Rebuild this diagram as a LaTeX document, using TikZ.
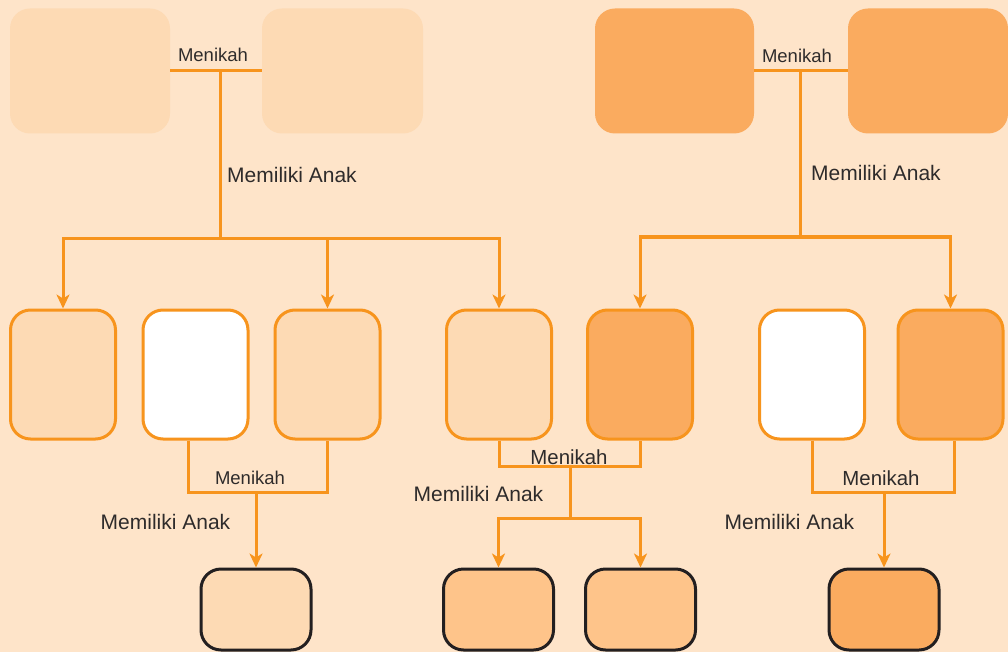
\documentclass[tikz,border=0pt]{standalone}
\usepackage{fontspec}
\setmainfont{Liberation Sans}
\usetikzlibrary{arrows.meta}
\definecolor{bg}{HTML}{FEE4C9}
\definecolor{light}{HTML}{FDDAB4}
\definecolor{dark}{HTML}{FAAB5F}
\definecolor{mid}{HTML}{FEC48A}
\definecolor{ln}{HTML}{F7941D}
\definecolor{txt}{HTML}{2E2B2B}
\definecolor{bord}{HTML}{231F20}
\begin{document}
\begin{tikzpicture}[x=1pt,y=-1pt,
  topbox/.style={rectangle, rounded corners=20pt, minimum width=160pt, minimum height=125pt, inner sep=0pt},
  midbox/.style={rectangle, rounded corners=20pt, draw=ln, line width=3pt, minimum width=105pt, minimum height=129pt, inner sep=0pt},
  botbox/.style={rectangle, rounded corners=20pt, draw=bord, line width=3pt, minimum width=110pt, minimum height=81pt, inner sep=0pt},
  conn/.style={draw=ln, line width=3pt},
  arr/.style={conn, -{Stealth[length=14pt,width=13pt,inset=4pt]}},
  lbl/.style={text=txt, inner sep=0pt, font=\fontsize{18.5}{20}\selectfont},
  lblw/.style={text=txt, inner sep=0pt, font=\fontsize{20.4}{22}\selectfont},
  lbla/.style={text=txt, inner sep=0pt, font=\fontsize{21}{23}\selectfont}]
\fill[bg] (0,0) rectangle (1008,652);
\useasboundingbox (0,0) rectangle (1008,652);
% top row
\node[topbox, fill=light] (tl1) at (90,71) {};
\node[topbox, fill=light, minimum width=161pt] (tl2) at (342.5,71) {};
\node[topbox, fill=dark, minimum width=159pt] (tr1) at (674.5,71) {};
\node[topbox, fill=dark] (tr2) at (928,71) {};
% middle row
\node[midbox, fill=light] (A) at (63,374.5) {};
\node[midbox, fill=white] (B) at (195.5,374.5) {};
\node[midbox, fill=light] (C) at (327.5,374.5) {};
\node[midbox, fill=light] (D) at (499,374.5) {};
\node[midbox, fill=dark] (E) at (640,374.5) {};
\node[midbox, fill=white] (F) at (812,374.5) {};
\node[midbox, fill=dark] (G) at (950.5,374.5) {};
% bottom row
\node[botbox, fill=light] (K) at (256,609.5) {};
\node[botbox, fill=mid] (H) at (498.5,609.5) {};
\node[botbox, fill=mid] (I) at (640.5,609.5) {};
\node[botbox, fill=dark] (J) at (884,609.5) {};
% junctions
\coordinate (tlm) at (220,71);
\coordinate (tlj) at (220,238);
\coordinate (trm) at (800,71);
\coordinate (trj) at (800,237);
\coordinate (bcm) at (256,492);
\coordinate (dem) at (570,466);
\coordinate (dej) at (570,518);
\coordinate (fgm) at (884,492);
% top-left family
\draw[conn] (tl1.east) -- (tl2.west);
\draw[conn] (tlm) -- (tlj);
\draw[arr] (tlj) -| (A.north);
\draw[arr] (tlj) -| (D.north);
\draw[arr] (C.north |- tlj) -- (C.north);
% top-right family
\draw[conn] (tr1.east) -- (tr2.west);
\draw[conn] (trm) -- (trj);
\draw[arr] (trj) -| (E.north);
\draw[arr] (trj) -| (G.north);
% B-C family
\draw[conn] ([xshift=-7.5pt]B.south) |- (bcm) -| (C.south);
\draw[arr] (bcm) -- (K.north);
% D-E family
\draw[conn] (D.south) |- (dem) -| (E.south);
\draw[conn] (dem) -- (dej);
\draw[arr] (dej) -| (H.north);
\draw[arr] (dej) -| (I.north);
% F-G family
\draw[conn] (F.south) |- (fgm) -| ([xshift=3.5pt]G.south);
\draw[arr] (fgm) -- (J.north);
% labels
\node[lbl] (m1) at (213,55) {Menikah};
\node[lbla, anchor=west] (a1) at (227,175) {Memiliki Anak};
\node[lbl] (m2) at (797,56) {Menikah};
\node[lbla, anchor=west] (a2) at (811,173) {Memiliki Anak};
\node[lbl] (m3) at (250,478) {Menikah};
\node[lbla] (a3) at (165.5,522) {Memiliki Anak};
\node[lblw] (m4) at (569,457) {Menikah};
\node[lbla] (a4) at (478.5,494) {Memiliki Anak};
\node[lblw] (m5) at (881,478) {Menikah};
\node[lbla] (a5) at (789.5,522) {Memiliki Anak};
\end{tikzpicture}
\end{document}
